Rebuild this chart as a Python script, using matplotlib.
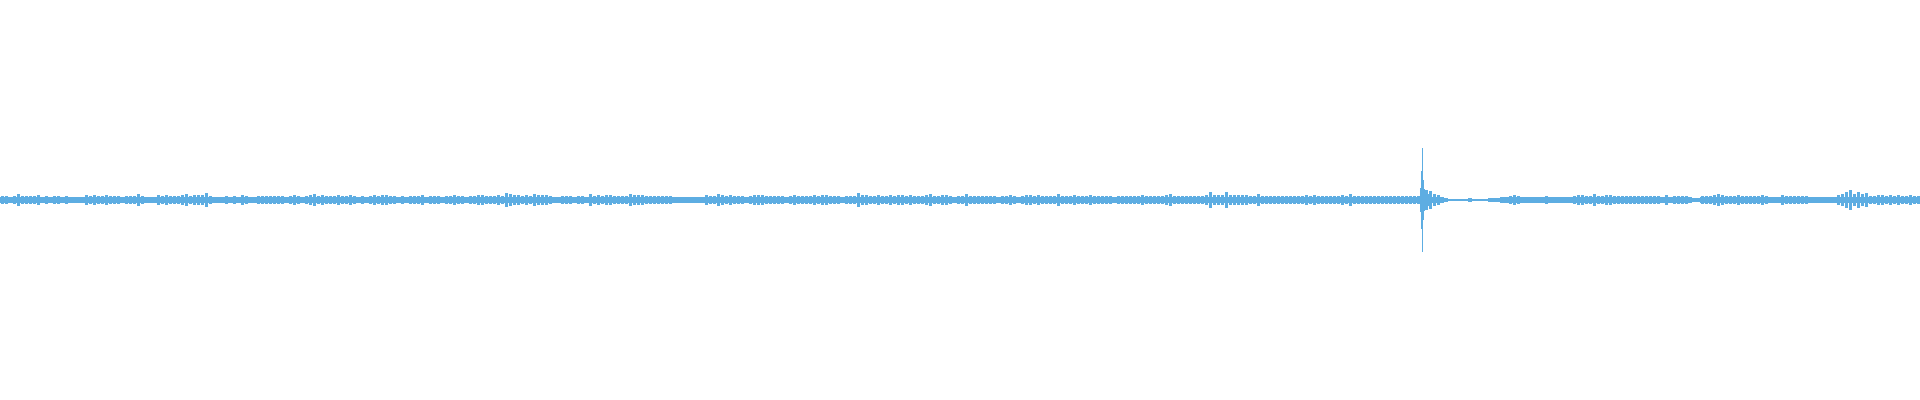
import numpy as np
import matplotlib.pyplot as plt

# waveform envelope, one peak value per 4 px column block (full scale = 200)
BIN = 4
FULL_SCALE = 200
CORE = 3        # half height of the solid band every block shares
COLOR = '#5dade2'

envelope = [
    4, 4, 3, 4, 6, 4, 4, 4, 4, 5, 3, 4, 3, 4, 4, 3, 4, 3, 3, 3,
    3, 5, 4, 5, 4, 4, 5, 4, 4, 4, 3, 4, 4, 4, 6, 4, 3, 3, 3, 5,
    4, 5, 4, 4, 4, 5, 6, 4, 5, 5, 5, 7, 4, 3, 3, 3, 4, 3, 4, 3,
    5, 4, 3, 3, 4, 4, 4, 4, 4, 4, 4, 3, 4, 5, 4, 3, 4, 5, 6, 4,
    5, 4, 4, 4, 5, 4, 4, 5, 4, 3, 4, 3, 4, 5, 4, 5, 5, 4, 4, 3,
    4, 3, 4, 4, 4, 5, 3, 4, 4, 4, 3, 4, 4, 5, 4, 4, 3, 4, 4, 5,
    5, 4, 4, 4, 5, 4, 7, 6, 5, 5, 4, 5, 4, 6, 5, 5, 5, 4, 3, 3,
    4, 4, 4, 3, 4, 4, 3, 6, 4, 5, 4, 5, 5, 4, 4, 4, 4, 6, 5, 5,
    5, 4, 4, 4, 4, 4, 4, 4, 3, 3, 3, 3, 3, 3, 3, 3, 5, 4, 4, 6,
    5, 4, 5, 4, 4, 4, 3, 4, 5, 5, 5, 4, 4, 4, 4, 4, 3, 4, 5, 4,
    4, 4, 4, 5, 4, 5, 5, 4, 4, 4, 3, 4, 4, 4, 7, 5, 5, 4, 4, 5,
    4, 4, 5, 4, 5, 5, 4, 5, 4, 4, 4, 5, 6, 4, 4, 5, 5, 4, 3, 4,
    4, 6, 4, 4, 4, 4, 4, 4, 4, 3, 4, 4, 5, 4, 3, 4, 5, 5, 4, 5,
    4, 4, 4, 4, 6, 4, 4, 4, 5, 4, 4, 4, 5, 4, 4, 4, 4, 4, 3, 4,
    4, 4, 4, 4, 4, 5, 4, 4, 4, 4, 4, 5, 6, 4, 4, 4, 4, 4, 4, 4,
    4, 5, 8, 5, 5, 5, 8, 5, 5, 5, 5, 5, 4, 4, 6, 4, 4, 4, 4, 4,
    4, 4, 4, 4, 4, 4, 5, 4, 5, 4, 4, 4, 4, 4, 4, 5, 4, 6, 4, 4,
    4, 4, 4, 4, 4, 4, 4, 4, 4, 4, 4, 4, 4, 4, 4, 5, 10, 9, 6, 5,
    3, 2, 1, 1, 1, 1, 1, 2, 1, 1, 1, 1, 2, 2, 2, 3, 3, 4, 5, 4,
    3, 3, 3, 3, 3, 3, 4, 3, 3, 3, 3, 3, 3, 4, 5, 5, 4, 4, 6, 4,
    4, 5, 5, 4, 4, 4, 4, 4, 4, 4, 4, 4, 4, 4, 4, 3, 5, 3, 4, 4,
    4, 4, 3, 2, 2, 4, 4, 4, 5, 6, 5, 4, 4, 4, 5, 4, 4, 4, 4, 4,
    5, 4, 3, 3, 3, 5, 4, 4, 4, 4, 4, 4, 3, 3, 3, 3, 3, 3, 3, 5,
    6, 8, 10, 6, 8, 6, 7, 4, 4, 5, 5, 4, 5, 4, 5, 4, 4, 5, 4, 4,
]

# the single loud transient, per pixel column
transient_x = [1420, 1421, 1422, 1423, 1424, 1425, 1426, 1427, 1428, 1429, 1430, 1431]
transient_amp = [12, 29, 52, 20, 11, 9, 8, 7, 6, 6, 5, 5]

fig = plt.figure(figsize=(19.2, 4), dpi=100)
ax = fig.add_axes([0, 0, 1, 1])

env = np.array(envelope, dtype=float)
x = np.arange(len(env)) * BIN

# solid core of each block, then the peak columns inside it
core = np.minimum(env, CORE)
ax.bar(x, 2 * core, bottom=-core, width=BIN, align='edge',
       color=COLOR, linewidth=0, antialiased=False)
ax.bar(x + 1, 2 * env, bottom=-env, width=3, align='edge',
       color=COLOR, linewidth=0, antialiased=False)

t_amp = np.array(transient_amp, dtype=float)
ax.bar(transient_x, 2 * t_amp, bottom=-t_amp, width=1, align='edge',
       color=COLOR, linewidth=0, antialiased=False)

ax.set_xlim(0, 1920)
ax.set_ylim(-FULL_SCALE, FULL_SCALE)
ax.axis('off')

fig.savefig('out.png', dpi=100, facecolor='white')
